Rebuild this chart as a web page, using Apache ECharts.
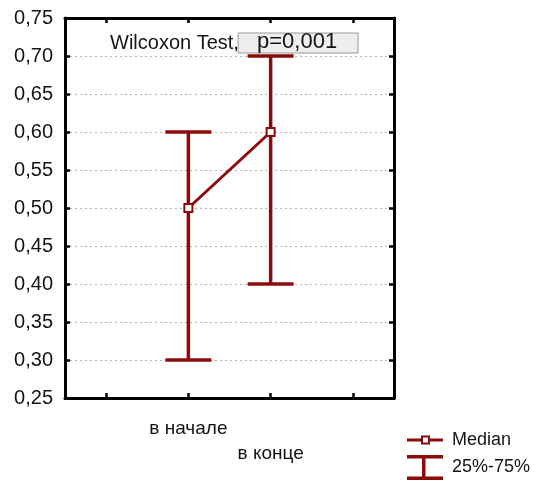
<!DOCTYPE html>
<html>
<head>
<meta charset="utf-8">
<script src="https://cdn.jsdelivr.net/npm/echarts@6/dist/echarts.min.js"></script>
<style>
  html, body { margin: 0; padding: 0; background: #fff; }
  #chart { width: 536px; height: 481px; }
</style>
</head>
<body>
<div id="chart"></div>
<script>
// Groups and their summary statistics
const categories = ['в начале', 'в конце'];
const medians = [0.50, 0.60];
const q25 = [0.30, 0.40];
const q75 = [0.60, 0.70];
const xTickPositions = [1, 2, 3, 4];
const groupPositions = [2, 3];
const testName = 'Wilcoxon Test,';
const testResult = 'p=0,001';

const RED = '#8b0a0a';
const INK = '#141414';
const FONT = '"Liberation Sans", Arial, sans-serif';

const medianData = groupPositions.map((x, i) => [x, medians[i]]);
const rangeData = groupPositions.map((x, i) => [x, q25[i], q75[i]]);

// Legend glyphs: a line through a hollow square, and an I-beam
const medianIcon = 'path://M0,3L14,3L14,0L23,0L23,3L36,3L36,6L23,6L23,9L14,9L14,6L0,6Z' +
  'M16,2L16,7L21,7L21,2Z';
const rangeIcon = 'path://M0,0L36,0L36,3.5L18.5,3.5L18.5,21.5L36,21.5L36,25L0,25L0,21.5L15,21.5L15,3.5L0,3.5Z';

const axisCommon = {
  type: 'value', min: 0.5, max: 4.5,
  axisLine: { show: true, onZero: false, lineStyle: { color: '#000', width: 3 } },
  axisTick: { show: true, inside: true, length: 5, customValues: xTickPositions,
              lineStyle: { color: '#000', width: 2.5 } },
  splitLine: { show: false }
};

const chart = echarts.init(document.getElementById('chart'), null, { renderer: 'canvas' });
chart.setOption({
  animation: false,
  backgroundColor: '#fff',
  textStyle: { fontFamily: FONT },
  grid: { left: 65, right: 142, top: 18, bottom: 83 },
  xAxis: [
    Object.assign({}, axisCommon, {
      position: 'bottom',
      axisLabel: {
        show: true, customValues: groupPositions, margin: 18,
        fontSize: 19, color: INK, fontFamily: FONT, lineHeight: 25,
        formatter: v => {
          const i = groupPositions.indexOf(v);
          return i === 0 ? categories[0] : '\n' + categories[i];
        }
      }
    }),
    Object.assign({}, axisCommon, { position: 'top', axisLabel: { show: false } })
  ],
  yAxis: [
    {
      type: 'value', min: 0.25, max: 0.75, interval: 0.05, position: 'left',
      axisLine: { show: true, lineStyle: { color: '#000', width: 3 } },
      axisTick: { show: true, inside: true, length: 5, lineStyle: { color: '#000', width: 2.5 } },
      axisLabel: { fontSize: 20, color: INK, margin: 12, fontFamily: FONT,
                   formatter: v => v.toFixed(2).replace('.', ',') },
      splitLine: { show: true, lineStyle: { color: '#b4b4b4', type: [2, 3], width: 1.2 } }
    },
    {
      type: 'value', min: 0.25, max: 0.75, interval: 0.05, position: 'right',
      axisLine: { show: true, lineStyle: { color: '#000', width: 3 } },
      axisTick: { show: true, inside: true, length: 5, lineStyle: { color: '#000', width: 2.5 } },
      axisLabel: { show: false },
      splitLine: { show: false }
    }
  ],
  legend: [
    {
      data: ['Median'], left: 407, top: 431, padding: 0, orient: 'vertical',
      icon: medianIcon, itemWidth: 36, itemHeight: 9,
      textStyle: { fontSize: 18, color: INK, fontFamily: FONT, padding: [0, 0, 0, 4] },
      itemStyle: { color: RED, borderWidth: 0 }
    },
    {
      data: ['25%-75%'], left: 407, top: 455, padding: 0, orient: 'vertical',
      icon: rangeIcon, itemWidth: 36, itemHeight: 25,
      textStyle: { fontSize: 18, color: INK, fontFamily: FONT, padding: [0, 0, 0, 4] },
      itemStyle: { color: RED, borderWidth: 0 }
    }
  ],
  series: [
    {
      name: '25%-75%',
      type: 'custom',
      xAxisIndex: 0, yAxisIndex: 0,
      data: rangeData,
      z: 2,
      renderItem: (params, api) => {
        const x = api.value(0);
        const lo = api.coord([x, api.value(1)]);
        const hi = api.coord([x, api.value(2)]);
        const half = 23;
        const style = { stroke: RED, lineWidth: 3.5, fill: null };
        return {
          type: 'group',
          children: [
            { type: 'line', shape: { x1: lo[0], y1: lo[1], x2: hi[0], y2: hi[1] }, style },
            { type: 'line', shape: { x1: lo[0] - half, y1: lo[1], x2: lo[0] + half, y2: lo[1] }, style },
            { type: 'line', shape: { x1: hi[0] - half, y1: hi[1], x2: hi[0] + half, y2: hi[1] }, style }
          ]
        };
      }
    },
    {
      name: 'Median',
      type: 'line',
      xAxisIndex: 0, yAxisIndex: 0,
      data: medianData,
      z: 3,
      symbol: 'rect', symbolSize: 8,
      lineStyle: { color: RED, width: 3 },
      itemStyle: { color: '#fff', borderColor: RED, borderWidth: 2 }
    }
  ],
  graphic: [
    {
      type: 'text', left: 110, top: 33, z: 10,
      style: { text: testName, font: '20px ' + FONT, fill: INK }
    },
    {
      type: 'rect', z: 11,
      shape: { x: 238, y: 33, width: 120, height: 20 },
      style: { fill: '#eeeeee', stroke: '#9a9a9a', lineWidth: 1 }
    },
    {
      type: 'text', left: 257, top: 31, z: 12,
      style: { text: testResult, font: '22px ' + FONT, fill: INK }
    }
  ]
});
</script>
</body>
</html>
